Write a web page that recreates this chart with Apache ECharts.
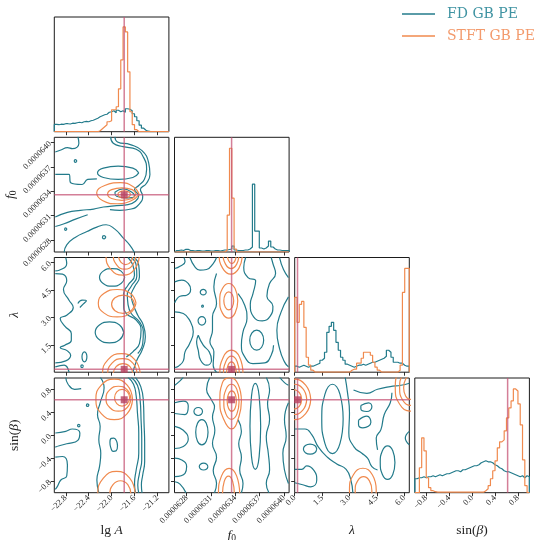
<!DOCTYPE html>
<html><head><meta charset="utf-8">
<script src="https://cdn.jsdelivr.net/npm/echarts@6/dist/echarts.min.js"></script>
<style>html,body{margin:0;padding:0;background:#fff}#c{width:540px;height:540px}</style>
</head><body><div id="c"></div>
<script>
// ---------------- parameters / axes ----------------
const paramNames = ['lgA', 'f0', 'lambda', 'sinBeta'];
const lgA_range = [-23, -21];
const f0_range = [626.5e-7, 640.65e-7];
const lam_range = [0, 2 * Math.PI];
const sinb_range = [-1, 1];
const lgA_ticks = [-22.8, -22.4, -22.0, -21.6, -21.2];
const f0_ticks = [628e-7, 631e-7, 634e-7, 637e-7, 640e-7];
const lam_ticks = [0, 1.5, 3.0, 4.5, 6.0];
const lam_ticks_y = [1.5, 3.0, 4.5, 6.0];
const sinb_ticks = [-0.8, -0.4, 0.0, 0.4, 0.8];
const truth = [-21.78, 633.55e-7, 0.155, 0.62];
const nBins = 50;
const hist_ymax = 115;

// ---------------- 1D histograms (heights, 50 bins over each range) ----------------
const hist_lgA_FD = [7.3,7,7.5,7.3,8,8,7.7,8.5,8.3, 9,9.5,9,10,10.3,10, 11,11.5,12.5,13.5,15,16,
  17,17.5,19.5,20,21,19,21.5,20,21, 19.5,23,22.5,21,18,15,11,6.5,3.5,1.5, 0.5,0,0,0,0,0,0,0,0,0];
const hist_lgA_STFT = [0,0,0,0,0,0,0,0,0,0,0,0,0,0,0,0,0,0,0,
  1,3,5,7,10,11,22,22,25,43,72, 105,100,60,20,7,2,0, 0,0,0,0,0,0,0,0,0,0,0,0,0];
const hist_f0_FD = [1.5,1.5,2,1.5, 2.7,2.7, 1.5,1.5,1,1.5,1.5,1,1,1.5,1.5,1,1,1.5,1.5,1,1.5,2,
  2,2.5,3,6,2, 1.5,1.5,1.5,2,2, 3,5,68,21,21,4,3,4,6,11,5, 3,2,2,1.5,1.5,1.5,1.5];
const hist_f0_STFT = [0,0,0,0,0,0,0,0,0,0,0,0,0,0,0,0,0,0,0,0,0,0,
  2,37,104,54,3, 0,0,0,0,0,0,0,0,0,0,0,0,0,0,0,0,0,0,0,0,0,0,0];
const hist_lam_FD = [6,5,6,7,6,5,6,6, 7,8,9,12,14,20,40,46,50,42,30,22,15,12,8,7,6,5,6,
  7,7,8,7,8,9,10,10,11,12,13,14,16,22,20,15,10,10,9,9,7,6,6];
const hist_lam_STFT = [75,50,68,71,45,15,7,2, 0,0,0,0,0,0,0,0,0,0,0,0,0,0,0,0,
  2,3,3,9,9,14,20,20,20,17,10,5,2, 0,0,0,0,0,0,0,0, 2,7,80,104,104];
const hist_sinb_FD = [14,15,15,16,15,16,16,17,16, 17,18,17,18,19,19, 20,21,22,22,21,23,23,24,
  25,26,27,27,28, 30,31,32,31, 31,30,28, 27,25,24, 22,21,21, 20,19,18, 17,16,17,15,17,16];
const hist_sinb_STFT = [0,0,25,55,42,15,5,2,1,
  0.5,0.5,0.5,0.5,0.5,0.5,0.5,0.5,0.5,0.5,0.5,0.5,0.5,0.5,0.5,0.5,0.5,0.5,0.5,0.5,0.5,
  2,4,7,14,22,32,45,51,53,62,75,85,92,104,102,89,68,33,7,0];

// ---------------- 2D contour lines (x, y in data units) ----------------
// row f0 / col lgA
const FD_f0_lgA = [
 [[-22.017,640.75e-7],[-21.971,639.92e-7],[-21.8,639.5e-7],[-21.571,639.17e-7],[-21.44,638.14e-7],[-21.389,636.69e-7],[-21.429,635.45e-7],[-21.526,634.70e-7],[-21.6,634.2e-7],[-21.526,633.46e-7],[-21.583,632.76e-7],[-21.714,632.34e-7],[-21.914,632.22e-7],[-22.143,632.05e-7],[-22.314,631.8e-7],[-22.543,631.64e-7],[-22.771,631.39e-7],[-22.983,630.81e-7]],
 [[-21.943,640.75e-7],[-21.897,640.08e-7],[-21.674,639.75e-7],[-21.469,639.0e-7],[-21.354,637.52e-7],[-21.331,636.07e-7],[-21.394,634.95e-7],[-21.497,634.2e-7],[-21.457,633.38e-7],[-21.526,632.34e-7],[-21.657,631.8e-7],[-21.857,631.64e-7],[-22.029,631.72e-7]],
 [[-21.526,636.27e-7],[-21.629,635.69e-7],[-21.886,635.45e-7],[-22.143,635.69e-7],[-22.246,636.27e-7],[-22.143,636.85e-7],[-21.886,637.1e-7],[-21.629,636.85e-7],[-21.526,636.27e-7]],
 [[-21.943,633.87e-7],[-21.8,634.29e-7],[-21.629,633.79e-7],[-21.6,633.38e-7],[-21.743,633.17e-7],[-21.914,633.38e-7],[-21.943,633.87e-7]],
 [[-22.589,640.75e-7],[-22.571,639.92e-7],[-22.686,639.25e-7],[-22.771,639.38e-7],[-22.886,639.09e-7],[-22.983,638.84e-7]],
 [[-22.983,636.07e-7],[-22.743,636.07e-7],[-22.714,635.03e-7],[-22.514,634.83e-7],[-22.417,635.45e-7],[-22.257,635.53e-7]],
 [[-22.606,637.72e-7],[-22.629,637.55e-7],[-22.652,637.72e-7],[-22.629,637.89e-7],[-22.606,637.72e-7]],
 [[-22.78,629.32e-7],[-22.8,629.18e-7],[-22.82,629.32e-7],[-22.8,629.47e-7],[-22.78,629.32e-7]],
 [[-22.10,628.33e-7],[-22.131,628.13e-7],[-22.16,628.33e-7],[-22.131,628.53e-7],[-22.10,628.33e-7]],
 [[-22.829,626.42e-7],[-22.783,627.37e-7],[-22.629,628.33e-7],[-22.429,629.03e-7],[-22.257,629.57e-7],[-22.097,629.86e-7],[-21.943,629.32e-7],[-21.811,628.33e-7],[-21.686,627.37e-7],[-21.6,626.42e-7]],
 [[-22.983,629.65e-7],[-22.829,629.98e-7],[-22.629,630.56e-7],[-22.417,631.1e-7]]
];
const STFT_f0_lgA = [
 [[-21.52,633.6e-7],[-21.62,634.55e-7],[-21.85,635.05e-7],[-22.12,634.7e-7],[-22.26,633.8e-7],[-22.16,632.85e-7],[-21.90,632.45e-7],[-21.65,632.85e-7],[-21.52,633.6e-7]],
 [[-21.57,633.65e-7],[-21.64,634.2e-7],[-21.82,634.42e-7],[-22.0,634.2e-7],[-22.07,633.65e-7],[-22.0,633.1e-7],[-21.82,632.88e-7],[-21.64,633.1e-7],[-21.57,633.65e-7]],
 [[-21.67,633.6e-7],[-21.70,633.9e-7],[-21.78,634.03e-7],[-21.86,633.9e-7],[-21.89,633.6e-7],[-21.86,633.3e-7],[-21.78,633.17e-7],[-21.70,633.3e-7],[-21.67,633.6e-7]]
];
// row lambda / col lgA
const FD_lam_lgA = [
 [[-21.771,5.195],[-21.835,5.537],[-21.991,5.679],[-22.147,5.537],[-22.211,5.195],[-22.147,4.853],[-21.991,4.711],[-21.835,4.853],[-21.771,5.195]],
 [[-21.788,2.182],[-21.861,2.589],[-22.037,2.757],[-22.213,2.589],[-22.286,2.182],[-22.213,1.775],[-22.037,1.607],[-21.861,1.775],[-21.788,2.182]],
 [[-21.714,6.281],[-21.629,5.861],[-21.6,5.314],[-21.714,4.766],[-21.789,4.309],[-21.789,3.67],[-21.743,3.214],[-21.571,2.849],[-21.486,2.301],[-21.514,1.57],[-21.629,1.114],[-21.743,0.84]],
 [[-21.6,6.281],[-21.526,5.861],[-21.514,5.222],[-21.6,4.675],[-21.657,4.218],[-21.629,3.762],[-21.543,3.122],[-21.446,2.575],[-21.411,1.936],[-21.469,1.205],[-21.56,0.657],[-21.629,0]],
 [[-21.657,6.281],[-21.571,5.861],[-21.56,5.259],[-21.657,4.711],[-21.726,4.273],[-21.714,3.725],[-21.657,3.214],[-21.514,2.757],[-21.446,2.209],[-21.457,1.57],[-21.543,1.023]],
 [[-22.983,5.405],[-22.857,5.368],[-22.783,5.003],[-22.84,4.528],[-22.743,3.944],[-22.669,3.542],[-22.783,3.122],[-22.897,2.94],[-22.817,2.52],[-22.703,2.118],[-22.703,1.753],[-22.817,1.479],[-22.897,1.351],[-22.771,1.169],[-22.714,0.931],[-22.8,0.621],[-22.983,0.511]],
 [[-22.8,6.281],[-22.783,5.953],[-22.914,5.588],[-22.983,5.551]],
 [[-22.589,3.762],[-22.514,3.944],[-22.44,3.908],[-22.497,3.725],[-22.554,3.542]],
 [[-22.431,0.84],[-22.444,1.034],[-22.474,1.114],[-22.504,1.034],[-22.517,0.84],[-22.504,0.646],[-22.474,0.566],[-22.444,0.646],[-22.431,0.84]],
 [[-22.491,0.329],[-22.514,0.402],[-22.537,0.329],[-22.514,0.256],[-22.491,0.329]],
 [[-22.983,0.292],[-22.829,0.384],[-22.743,0]]
];
const STFT_lam_lgA = [
 [[-21.515,6.409],[-21.6,7.184],[-21.806,7.505],[-22.012,7.184],[-22.097,6.409],[-22.012,5.634],[-21.806,5.313],[-21.6,5.634],[-21.515,6.409]],
 [[-21.571,6.464],[-21.63,7.045],[-21.771,7.286],[-21.912,7.045],[-21.971,6.464],[-21.912,5.883],[-21.771,5.642],[-21.63,5.883],[-21.571,6.464]],
 [[-21.628,6.409],[-21.665,6.77],[-21.754,6.92],[-21.843,6.77],[-21.88,6.409],[-21.843,6.048],[-21.754,5.898],[-21.665,6.048],[-21.628,6.409]],
 [[-21.574,3.78],[-21.67,4.31],[-21.903,4.529],[-22.136,4.31],[-22.232,3.78],[-22.136,3.25],[-21.903,3.031],[-21.67,3.25],[-21.574,3.78]],
 [[-21.6,3.725],[-21.659,4.08],[-21.8,4.227],[-21.941,4.08],[-22.0,3.725],[-21.941,3.37],[-21.8,3.223],[-21.659,3.37],[-21.6,3.725]],
 [[-21.5,-0.11],[-21.596,0.69],[-21.829,1.022],[-22.062,0.69],[-22.158,-0.11],[-22.062,-0.91],[-21.829,-1.242],[-21.596,-0.91],[-21.5,-0.11]],
 [[-21.554,-0.11],[-21.629,0.497],[-21.811,0.748],[-21.993,0.497],[-22.068,-0.11],[-21.993,-0.717],[-21.811,-0.968],[-21.629,-0.717],[-21.554,-0.11]],
 [[-21.629,-0.11],[-21.679,0.303],[-21.8,0.474],[-21.921,0.303],[-21.971,-0.11],[-21.921,-0.523],[-21.8,-0.694],[-21.679,-0.523],[-21.629,-0.11]]
];
// row sinBeta / col lgA
const FD_sinb_lgA = [
 [[-22.2,1.014],[-22.131,0.832],[-22.2,0.568],[-22.246,0.363],[-22.2,0.158],[-22.223,-0.076],[-22.189,-0.311],[-22.211,-0.545],[-22.257,-0.779],[-22.223,-1.002]],
 [[-21.714,1.014],[-21.617,0.891],[-21.571,0.686],[-21.549,0.393],[-21.526,0.041],[-21.526,-0.311],[-21.571,-0.604],[-21.6,-0.838],[-21.583,-1.002]],
 [[-21.657,1.014],[-21.549,0.873],[-21.503,0.627],[-21.486,0.275],[-21.474,-0.076],[-21.474,-0.428],[-21.514,-0.662],[-21.543,-0.867],[-21.526,-1.002]],
 [[-21.589,1.014],[-21.491,0.85],[-21.446,0.598],[-21.434,0.217],[-21.423,-0.135],[-21.423,-0.457],[-21.457,-0.691],[-21.48,-0.867],[-21.469,-1.002]],
 [[-21.897,-0.182],[-21.92,-0.27],[-21.971,-0.281],[-22.017,-0.205],[-22.029,-0.123],[-22.006,-0.053],[-21.96,-0.047],[-21.914,-0.1],[-21.897,-0.182]],
 [[-22.8,1.014],[-22.76,0.891],[-22.646,0.803],[-22.531,0.815]],
 [[-22.983,0.041],[-22.8,0.07],[-22.686,0.111],[-22.554,0.041],[-22.589,-0.088],[-22.783,-0.147],[-22.914,-0.182],[-22.983,-0.205]],
 [[-22.983,-0.381],[-22.857,-0.369],[-22.771,-0.516],[-22.783,-0.709],[-22.886,-0.779],[-22.943,-0.885],[-22.983,-0.943]],
 [[-22.394,0.527],[-22.417,0.55],[-22.44,0.527],[-22.417,0.504],[-22.394,0.527]],
 [[-22.548,0.17],[-22.571,0.193],[-22.594,0.17],[-22.571,0.147],[-22.548,0.17]]
];
const STFT_sinb_lgA = [
 [[-21.634,0.627],[-21.728,0.876],[-21.954,0.979],[-22.18,0.876],[-22.274,0.627],[-22.18,0.378],[-21.954,0.275],[-21.728,0.378],[-21.634,0.627]],
 [[-21.663,0.639],[-21.727,0.792],[-21.88,0.856],[-22.033,0.792],[-22.097,0.639],[-22.033,0.486],[-21.88,0.422],[-21.727,0.486],[-21.663,0.639]],
 [[-21.686,0.656],[-21.724,0.759],[-21.817,0.802],[-21.91,0.759],[-21.948,0.656],[-21.91,0.553],[-21.817,0.51],[-21.724,0.553],[-21.686,0.656]],
 [[-21.588,-1.026],[-21.684,-0.745],[-21.914,-0.628],[-22.144,-0.745],[-22.24,-1.026],[-22.144,-1.307],[-21.914,-1.424],[-21.684,-1.307],[-21.588,-1.026]],
 [[-21.663,-1.026],[-21.717,-0.861],[-21.846,-0.792],[-21.975,-0.861],[-22.029,-1.026],[-21.975,-1.191],[-21.846,-1.26],[-21.717,-1.191],[-21.663,-1.026]]
];
// row lambda / col f0
const FD_lam_f0 = [
 [[626.53e-7,5.679],[627.18e-7,5.807],[627.80e-7,6.044],[627.67e-7,6.281]],
 [[626.53e-7,4.949],[627.39e-7,5.04],[628.2e-7,4.857],[628.49e-7,4.528],[628.0e-7,4.218],[627.18e-7,4.163],[626.69e-7,3.944],[626.53e-7,3.798]],
 [[630.42e-7,4.382],[630.31e-7,4.488],[630.05e-7,4.532],[629.79e-7,4.488],[629.68e-7,4.382],[629.79e-7,4.276],[630.05e-7,4.232],[630.31e-7,4.276],[630.42e-7,4.382]],
 [[626.53e-7,3.305],[627.59e-7,3.214],[628.41e-7,2.812],[628.82e-7,2.209],[628.33e-7,1.534],[627.80e-7,1.114],[627.59e-7,0.621],[626.98e-7,0.329],[626.53e-7,0.256]],
 [[630.35e-7,2.812],[630.21e-7,2.973],[629.88e-7,3.04],[629.55e-7,2.973],[629.41e-7,2.812],[629.55e-7,2.651],[629.88e-7,2.584],[630.21e-7,2.651],[630.35e-7,2.812]],
 [[629.43e-7,2.027],[630.05e-7,1.479],[630.79e-7,1.114],[631.07e-7,0.657],[630.46e-7,0.383],[629.72e-7,0.657],[629.43e-7,1.205],[629.23e-7,1.662],[629.43e-7,2.027]],
 [[628.41e-7,6.281],[629.02e-7,5.77],[629.64e-7,5.588],[630.46e-7,5.624],[631.28e-7,5.953],[631.69e-7,6.281]],
 [[631.69e-7,5.405],[631.36e-7,4.675],[631.69e-7,3.762],[631.19e-7,3.031],[631.19e-7,2.301],[630.87e-7,1.662],[631.36e-7,1.114],[631.28e-7,0.383],[631.69e-7,0]],
 [[635.29e-7,6.281],[635.05e-7,5.734],[635.58e-7,5.186],[636.52e-7,5.003],[636.19e-7,4.309],[635.86e-7,3.725],[636.27e-7,3.031],[637.34e-7,2.812],[638.32e-7,3.068],[638.65e-7,3.615],[637.91e-7,4.163],[638.24e-7,4.857],[638.98e-7,5.405],[638.65e-7,5.953],[638.44e-7,6.281]],
 [[637.51e-7,1.753],[637.26e-7,2.14],[636.65e-7,2.301],[636.04e-7,2.14],[635.79e-7,1.753],[636.04e-7,1.366],[636.65e-7,1.205],[637.26e-7,1.366],[637.51e-7,1.753]],
 [[639.47e-7,6.281],[639.96e-7,5.624],[640.57e-7,5.186]],
 [[640.57e-7,4.127],[639.67e-7,3.305],[639.14e-7,2.301],[639.47e-7,1.296],[640.08e-7,0.566],[640.57e-7,0.292]],
 [[634.35e-7,4.309],[635.17e-7,3.67],[635.45e-7,2.94],[634.96e-7,2.209],[634.76e-7,1.479],[635.17e-7,0.84],[636.19e-7,0.475],[637.63e-7,0.511],[638.44e-7,0.931],[638.73e-7,1.479]],
 [[630.09e-7,3.615],[629.97e-7,3.67],[629.85e-7,3.615],[629.97e-7,3.56],[630.09e-7,3.615]]
];
const STFT_lam_f0 = [
 [[634.88e-7,6.5],[634.46e-7,7.3],[633.45e-7,7.632],[632.44e-7,7.3],[632.02e-7,6.5],[632.44e-7,5.7],[633.45e-7,5.368],[634.46e-7,5.7],[634.88e-7,6.5]],
 [[634.47e-7,6.5],[634.18e-7,7.081],[633.49e-7,7.322],[632.8e-7,7.081],[632.51e-7,6.5],[632.8e-7,5.919],[633.49e-7,5.678],[634.18e-7,5.919],[634.47e-7,6.5]],
 [[634.14e-7,6.5],[633.98e-7,6.887],[633.57e-7,7.048],[633.17e-7,6.887],[633.0e-7,6.5],[633.17e-7,6.113],[633.57e-7,5.952],[633.98e-7,6.113],[634.14e-7,6.5]],
 [[634.31e-7,3.908],[633.98e-7,4.58],[633.2e-7,4.858],[632.42e-7,4.58],[632.09e-7,3.908],[632.42e-7,3.236],[633.2e-7,2.958],[633.98e-7,3.236],[634.31e-7,3.908]],
 [[633.81e-7,3.908],[633.63e-7,4.257],[633.2e-7,4.401],[632.77e-7,4.257],[632.59e-7,3.908],[632.77e-7,3.559],[633.2e-7,3.415],[633.63e-7,3.559],[633.81e-7,3.908]],
 [[634.96e-7,-0.11],[634.54e-7,0.82],[633.53e-7,1.205],[632.52e-7,0.82],[632.1e-7,-0.11],[632.52e-7,-1.04],[633.53e-7,-1.425],[634.54e-7,-1.04],[634.96e-7,-0.11]],
 [[634.51e-7,-0.11],[634.23e-7,0.587],[633.53e-7,0.876],[632.84e-7,0.587],[632.55e-7,-0.11],[632.84e-7,-0.807],[633.53e-7,-1.096],[634.23e-7,-0.807],[634.51e-7,-0.11]],
 [[634.14e-7,-0.11],[633.96e-7,0.368],[633.53e-7,0.566],[633.1e-7,0.368],[632.92e-7,-0.11],[633.1e-7,-0.588],[633.53e-7,-0.786],[633.96e-7,-0.588],[634.14e-7,-0.11]]
];
// row sinBeta / col f0
const FD_sinb_f0 = [
 [[626.53e-7,0.873],[627.18e-7,0.949],[627.59e-7,1.014]],
 [[626.53e-7,0.568],[627.59e-7,0.598],[628.2e-7,0.51],[627.8e-7,0.363],[626.53e-7,0.381]],
 [[629.96e-7,0.416],[629.81e-7,0.465],[629.43e-7,0.486],[629.05e-7,0.465],[628.9e-7,0.416],[629.05e-7,0.367],[629.43e-7,0.346],[629.81e-7,0.367],[629.96e-7,0.416]],
 [[630.64e-7,0.053],[630.42e-7,0.209],[629.88e-7,0.273],[629.34e-7,0.209],[629.12e-7,0.053],[629.34e-7,-0.103],[629.88e-7,-0.167],[630.42e-7,-0.103],[630.64e-7,0.053]],
 [[626.53e-7,0.158],[627.59e-7,0.088],[628.2e-7,-0.064],[627.59e-7,-0.193],[626.53e-7,-0.229]],
 [[626.53e-7,-0.398],[627.39e-7,-0.428],[628.0e-7,-0.545],[627.8e-7,-0.662],[626.53e-7,-0.721]],
 [[630.62e-7,-0.545],[630.47e-7,-0.503],[630.09e-7,-0.486],[629.71e-7,-0.503],[629.56e-7,-0.545],[629.71e-7,-0.587],[630.09e-7,-0.604],[630.47e-7,-0.587],[630.62e-7,-0.545]],
 [[626.53e-7,-0.809],[627.18e-7,-0.85],[627.92e-7,-1.002]],
 [[630.87e-7,1.014],[630.46e-7,0.803],[631.07e-7,0.615],[631.44e-7,0.498],[631.19e-7,0.322],[631.48e-7,0.088],[631.19e-7,-0.147],[631.69e-7,-0.381],[631.28e-7,-0.615],[631.69e-7,-0.838],[631.44e-7,-1.002]],
 [[634.35e-7,0.275],[634.76e-7,0.07],[634.43e-7,-0.147],[634.76e-7,-0.381],[634.55e-7,-0.604],[634.96e-7,-0.838],[634.76e-7,-1.002]],
 [[637.14e-7,0.158],[636.95e-7,0.688],[636.48e-7,0.908],[636.01e-7,0.688],[635.82e-7,0.158],[636.01e-7,-0.372],[636.48e-7,-0.592],[636.95e-7,-0.372],[637.14e-7,0.158]],
 [[637.83e-7,1.014],[638.24e-7,0.791],[637.99e-7,0.557],[638.24e-7,0.275],[637.83e-7,-0.018],[638.08e-7,-0.311],[638.24e-7,-0.604],[637.83e-7,-0.838],[638.16e-7,-1.002]],
 [[639.47e-7,1.014],[640.08e-7,0.92],[640.57e-7,0.873]],
 [[640.57e-7,0.568],[640.08e-7,0.275],[640.29e-7,-0.018],[639.88e-7,-0.311],[640.08e-7,-0.604],[640.57e-7,-0.838]]
];
const STFT_sinb_f0 = [
 [[634.76e-7,0.598],[634.35e-7,0.891],[633.41e-7,1.008],[632.42e-7,0.92],[632.1e-7,0.598],[632.59e-7,0.275],[633.53e-7,0.111],[634.47e-7,0.334],[634.76e-7,0.598]],
 [[634.47e-7,0.586],[634.2e-7,0.802],[633.53e-7,0.891],[632.86e-7,0.802],[632.59e-7,0.586],[632.86e-7,0.37],[633.53e-7,0.281],[634.2e-7,0.37],[634.47e-7,0.586]],
 [[634.14e-7,0.598],[633.98e-7,0.722],[633.57e-7,0.774],[633.17e-7,0.722],[633.0e-7,0.598],[633.17e-7,0.474],[633.57e-7,0.422],[633.98e-7,0.474],[634.14e-7,0.598]],
 [[634.55e-7,-1.026],[634.17e-7,-0.707],[633.24e-7,-0.575],[632.31e-7,-0.707],[631.93e-7,-1.026],[632.31e-7,-1.345],[633.24e-7,-1.477],[634.17e-7,-1.345],[634.55e-7,-1.026]],
 [[633.9e-7,-1.026],[633.68e-7,-0.803],[633.16e-7,-0.71],[632.64e-7,-0.803],[632.42e-7,-1.026],[632.64e-7,-1.249],[633.16e-7,-1.342],[633.68e-7,-1.249],[633.9e-7,-1.026]]
];
// row sinBeta / col lambda
const FD_sinb_lam = [
 [[2.656,0.287],[2.484,0.714],[2.07,0.891],[1.656,0.714],[1.484,0.287],[1.656,-0.14],[2.07,-0.317],[2.484,-0.14],[2.656,0.287]],
 [[0,0.111],[0.568,0.111],[0.934,0.012],[1.301,-0.205],[1.795,-0.381],[2.308,-0.498],[2.821,-0.592],[3.078,-0.779],[3.188,-1.002]],
 [[2.766,1.014],[2.895,0.744],[3.004,0.393],[2.968,0.041],[3.261,-0.205],[3.682,-0.311],[3.994,-0.398],[4.232,-0.545],[4.543,-0.604]],
 [[1.209,-0.24],[1.102,-0.178],[0.843,-0.152],[0.584,-0.178],[0.477,-0.24],[0.584,-0.302],[0.843,-0.328],[1.102,-0.302],[1.209,-0.24]],
 [[0,-0.592],[0.385,-0.592],[0.66,-0.533],[1.063,-0.615],[1.209,-0.779],[0.879,-0.897],[0.44,-0.862],[0,-0.826]],
 [[3.224,0.791],[3.957,0.733],[4.543,0.803],[5.24,0.85],[5.826,0.873],[6.284,0.908]],
 [[3.627,0.522],[4.049,0.568],[4.232,0.498],[3.957,0.416],[3.627,0.463],[3.627,0.522]],
 [[3.499,0.264],[3.957,0.334],[4.177,0.229],[3.737,0.129],[3.499,0.188],[3.499,0.264]],
 [[5.496,-0.475],[5.378,-0.268],[5.093,-0.182],[4.808,-0.268],[4.69,-0.475],[4.808,-0.682],[5.093,-0.768],[5.378,-0.682],[5.496,-0.475]],
 [[5.331,0.744],[5.24,0.568],[4.91,0.363],[4.727,0.1],[4.47,-0.047],[4.543,-0.252]],
 [[6.284,0.07],[6.064,-0.047],[6.284,-0.164]]
];
const STFT_sinb_lam = [
 [[0.88,0.627],[0.601,0.876],[-0.073,0.979],[-0.747,0.876],[-1.026,0.627],[-0.747,0.378],[-0.073,0.275],[0.601,0.378],[0.88,0.627]],
 [[0.66,0.627],[0.445,0.814],[-0.073,0.891],[-0.591,0.814],[-0.806,0.627],[-0.591,0.44],[-0.073,0.363],[0.445,0.44],[0.66,0.627]],
 [[0.385,0.627],[0.251,0.747],[-0.073,0.797],[-0.397,0.747],[-0.531,0.627],[-0.397,0.507],[-0.073,0.457],[0.251,0.507],[0.385,0.627]],
 [[7.163,0.832],[6.922,1.122],[6.339,1.242],[5.756,1.122],[5.515,0.832],[5.756,0.542],[6.339,0.422],[6.922,0.542],[7.163,0.832]],
 [[6.925,0.832],[6.753,1.052],[6.339,1.143],[5.925,1.052],[5.753,0.832],[5.925,0.612],[6.339,0.521],[6.753,0.612],[6.925,0.832]],
 [[6.705,0.832],[6.598,0.977],[6.339,1.037],[6.08,0.977],[5.973,0.832],[6.08,0.687],[6.339,0.627],[6.598,0.687],[6.705,0.832]],
 [[4.47,-0.955],[4.255,-0.686],[3.737,-0.574],[3.219,-0.686],[3.004,-0.955],[3.219,-1.224],[3.737,-1.336],[4.255,-1.224],[4.47,-0.955]],
 [[4.232,-0.967],[4.098,-0.793],[3.774,-0.721],[3.45,-0.793],[3.316,-0.967],[3.45,-1.141],[3.774,-1.213],[4.098,-1.141],[4.232,-0.967]]
];

// ---------------- assembly ----------------
const ranges = [lgA_range, f0_range, lam_range, sinb_range];
const xTicks = [lgA_ticks, f0_ticks, lam_ticks, sinb_ticks];
const yTicks = [lgA_ticks, f0_ticks, lam_ticks_y, sinb_ticks];
const hists = [[hist_lgA_FD, hist_lgA_STFT], [hist_f0_FD, hist_f0_STFT], [hist_lam_FD, hist_lam_STFT], [hist_sinb_FD, hist_sinb_STFT]];
const contours = {
  '1_0': [FD_f0_lgA, STFT_f0_lgA], '2_0': [FD_lam_lgA, STFT_lam_lgA], '2_1': [FD_lam_f0, STFT_lam_f0],
  '3_0': [FD_sinb_lgA, STFT_sinb_lgA], '3_1': [FD_sinb_f0, STFT_sinb_f0], '3_2': [FD_sinb_lam, STFT_sinb_lam]
};
const minus = s => s.replace('-', '\u2212');
const fmt = [v => minus(v.toFixed(1)), v => v.toFixed(7), v => v.toFixed(1), v => minus(v.toFixed(1))];
const axisTitles = ['lg {i|A}', '{i|f}{s|0}', '{i|λ}', 'sin({i|β})'];
const xNameGap = [31, 24, 31, 31];

const C_FD = '#237b8b', C_STFT = '#f08a4e', C_TRUTH = 'rgba(198,84,118,0.75)', C_MARK = '#b7415f';
const COL_LEFT = [54.3, 174.5, 294.7, 414.8], ROW_TOP = [17, 137.3, 257.5, 378], PW = 114.6, PH = 114.7;
const serif = 'Liberation Serif';
const nameStyle = {fontFamily: serif, fontSize: 13.5, color: '#222',
  rich: {i: {fontFamily: serif, fontStyle: 'italic', fontSize: 13.5, color: '#222'},
         s: {fontFamily: serif, fontSize: 9.5, color: '#222', padding: [7, 0, 0, 0]}}};

const grids = [], xAxes = [], yAxes = [], series = [];
let gi = 0;
function lineSeries(name, data, color, gidx, width, smooth) {
  return {type: 'line', name, xAxisIndex: gidx, yAxisIndex: gidx, data, showSymbol: false, symbol: 'none',
    smooth: smooth, clip: true, silent: true, color, itemStyle: {color},
    lineStyle: {color, width}, animation: false, z: 2};
}
for (let r = 0; r < 4; r++) {
  for (let c = 0; c <= r; c++) {
    const bottom = r === 3, diag = r === c;
    grids.push({left: COL_LEFT[c], top: ROW_TOP[r], width: PW, height: PH, show: true,
      borderColor: '#1b1b1b', borderWidth: 1, backgroundColor: 'transparent', containLabel: false, outerBoundsMode: 'none'});
    xAxes.push({type: 'value', gridIndex: gi, min: ranges[c][0], max: ranges[c][1], scale: true, position: 'bottom',
      axisLine: {show: false, onZero: false}, splitLine: {show: false},
      axisTick: {show: true, customValues: xTicks[c], length: 3.5, lineStyle: {color: '#1b1b1b', width: 0.9}},
      axisLabel: {show: bottom, customValues: xTicks[c], formatter: fmt[c], rotate: 45, fontSize: 8.5,
        fontFamily: serif, color: '#222', margin: 4},
      name: bottom ? axisTitles[c] : '', nameLocation: 'middle', nameGap: xNameGap[c], nameTextStyle: nameStyle});
    if (diag) {
      yAxes.push({type: 'value', gridIndex: gi, min: 0, max: hist_ymax, position: 'left',
        axisLine: {show: false, onZero: false},
        axisTick: {show: false}, axisLabel: {show: false}, splitLine: {show: false}});
      const lo = ranges[c][0], w = (ranges[c][1] - ranges[c][0]) / nBins;
      hists[c].forEach((h, k) => {
        const pts = [[lo, 0]];
        h.forEach((v, b) => pts.push([lo + b * w, v]));
        pts.push([lo + nBins * w, h[nBins - 1]]);
        pts.push([lo + nBins * w, 0]);
        const s = lineSeries(k === 0 ? 'FD GB PE' : 'STFT GB PE', pts, k === 0 ? C_FD : C_STFT, gi, 1.2, false);
        s.step = 'end';
        series.push(s);
      });
      series.push(lineSeries('truth', [[truth[c], 0], [truth[c], hist_ymax]], C_TRUTH, gi, 1.5, false));
    } else {
      yAxes.push({type: 'value', gridIndex: gi, min: ranges[r][0], max: ranges[r][1], scale: true, position: 'left',
        axisLine: {show: false, onZero: false}, splitLine: {show: false},
        axisTick: {show: true, customValues: yTicks[r], length: 3.5, lineStyle: {color: '#1b1b1b', width: 0.9}},
        axisLabel: {show: c === 0, customValues: yTicks[r], formatter: fmt[r], rotate: 45, fontSize: 8.5,
          fontFamily: serif, color: '#222', margin: 4},
        name: c === 0 ? axisTitles[r] : '', nameLocation: 'middle', nameGap: 33, nameTextStyle: nameStyle});
      const [fd, st] = contours[r + '_' + c];
      fd.forEach(p => series.push(lineSeries('FD GB PE', p, C_FD, gi, 1.2, 0.5)));
      st.forEach(p => series.push(lineSeries('STFT GB PE', p, C_STFT, gi, 1.2, 0.5)));
      series.push(lineSeries('truth', [[truth[c], ranges[r][0]], [truth[c], ranges[r][1]]], C_TRUTH, gi, 1.5, false));
      series.push(lineSeries('truth', [[ranges[c][0], truth[r]], [ranges[c][1], truth[r]]], C_TRUTH, gi, 1.5, false));
      series.push({type: 'scatter', name: 'truth', xAxisIndex: gi, yAxisIndex: gi, data: [[truth[c], truth[r]]],
        symbol: 'rect', symbolSize: 7, itemStyle: {color: C_MARK}, silent: true, animation: false, z: 3});
    }
    gi++;
  }
}

const chart = echarts.init(document.getElementById('c'), null, {renderer: 'canvas'});
chart.setOption({
  animation: false,
  backgroundColor: '#fff',
  grid: grids, xAxis: xAxes, yAxis: yAxes, series,
  legend: {
    data: [{name: 'FD GB PE', textStyle: {color: '#3f93a2'}}, {name: 'STFT GB PE', textStyle: {color: '#f39a6c'}}],
    selectedMode: false, orient: 'vertical', left: 402, top: 6, icon: 'rect', itemWidth: 33, itemHeight: 1.4,
    itemGap: 6, padding: 0,
    textStyle: {fontFamily: 'DejaVu Serif', fontSize: 14, lineHeight: 16, padding: [0, 0, 0, 7]}
  }
});
</script></body></html>
